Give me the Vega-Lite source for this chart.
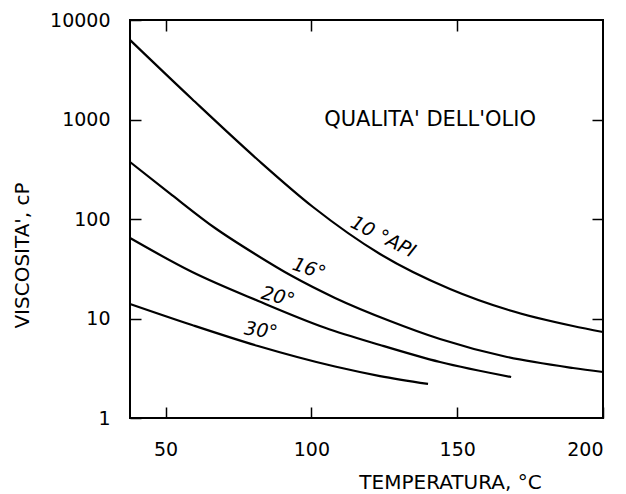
{
  "$schema": "https://vega.github.io/schema/vega-lite/v6.json",
  "width": 473,
  "height": 398,
  "autosize": {"type": "none"},
  "padding": {"left": 130, "top": 20, "right": 23, "bottom": 76},
  "background": "white",
  "config": {
    "view": {"stroke": "black", "strokeWidth": 2},
    "axis": {
      "grid": false,
      "domain": false,
      "tickColor": "black",
      "tickWidth": 1.5,
      "tickSize": -11,
      "labelFont": "DejaVu Sans",
      "labelFontSize": 19,
      "labelColor": "black",
      "titleFont": "DejaVu Sans",
      "titleFontSize": 20,
      "titleFontWeight": "normal",
      "titleColor": "black"
    }
  },
  "datasets": {
    "curves": [
      {"grade": "10", "T": 37.8, "v": 6295},
      {"grade": "10", "T": 59.06, "v": 1607},
      {"grade": "10", "T": 81.7, "v": 392},
      {"grade": "10", "T": 100.56, "v": 132},
      {"grade": "10", "T": 123.53, "v": 44.5},
      {"grade": "10", "T": 147.54, "v": 19.8},
      {"grade": "10", "T": 167.1, "v": 12.3},
      {"grade": "10", "T": 189.7, "v": 8.41},
      {"grade": "10", "T": 200, "v": 7.32},
      {"grade": "16", "T": 37.8, "v": 374},
      {"grade": "16", "T": 52.2, "v": 174},
      {"grade": "16", "T": 66.95, "v": 81.2},
      {"grade": "16", "T": 80.67, "v": 44.5},
      {"grade": "16", "T": 93.36, "v": 26.7},
      {"grade": "16", "T": 108.1, "v": 16.1},
      {"grade": "16", "T": 126.96, "v": 9.44},
      {"grade": "16", "T": 144.1, "v": 6.22},
      {"grade": "16", "T": 167.1, "v": 4.1},
      {"grade": "16", "T": 189.7, "v": 3.18},
      {"grade": "16", "T": 200, "v": 2.9},
      {"grade": "20", "T": 37.8, "v": 64.4},
      {"grade": "20", "T": 58.96, "v": 29.5},
      {"grade": "20", "T": 81.8, "v": 15.0},
      {"grade": "20", "T": 104.67, "v": 8.08},
      {"grade": "20", "T": 123.53, "v": 5.42},
      {"grade": "20", "T": 144.1, "v": 3.65},
      {"grade": "20", "T": 168.5, "v": 2.58},
      {"grade": "30", "T": 37.8, "v": 14.0},
      {"grade": "30", "T": 59.06, "v": 8.6},
      {"grade": "30", "T": 81.7, "v": 5.29},
      {"grade": "30", "T": 108.1, "v": 3.29},
      {"grade": "30", "T": 123.53, "v": 2.64},
      {"grade": "30", "T": 140.0, "v": 2.2}
    ]
  },
  "layer": [
    {
      "data": {"name": "curves"},
      "mark": {"type": "line", "color": "black", "strokeWidth": 2.2, "interpolate": "monotone"},
      "encoding": {
        "x": {
          "field": "T", "type": "quantitative",
          "scale": {"domain": [37.8, 200], "nice": false, "zero": false},
          "axis": {"orient": "bottom", "values": [50, 100, 150, 200], "labelPadding": 33, "labelBaseline": "top", "title": "TEMPERATURA, °C", "titleX": 320, "titleY": 64, "titleBaseline": "middle", "titleAlign": "center"}
        },
        "y": {
          "field": "v", "type": "quantitative",
          "scale": {"type": "log", "domain": [1, 10000], "nice": false},
          "axis": {"orient": "left", "values": [1, 10, 100, 1000, 10000], "format": "d", "labelPadding": 31, "title": "VISCOSITA', cP", "titleX": -108, "titleY": 235, "titleBaseline": "middle", "titleAlign": "center", "titleAngle": 270}
        },
        "detail": {"field": "grade"}
      }
    },
    {
      "data": {"values": [{"label": "QUALITA' DELL'OLIO", "T": 140.7, "v": 986}]},
      "mark": {"type": "text", "font": "DejaVu Sans", "fontSize": 21, "color": "black", "align": "center", "baseline": "middle"},
      "encoding": {
        "x": {"field": "T", "type": "quantitative", "axis": {"orient": "top", "values": [50, 100, 150], "labels": false, "title": null}},
        "y": {"field": "v", "type": "quantitative", "scale": {"type": "log"}, "axis": {"orient": "right", "values": [10, 100, 1000], "labels": false, "title": null}},
        "text": {"field": "label"}
      }
    },
    {
      "data": {"values": [{"label": "10 °API", "T": 124.6, "v": 66}]},
      "mark": {"type": "text", "font": "DejaVu Sans", "fontSize": 19, "fontStyle": "italic", "color": "black", "align": "center", "baseline": "middle", "angle": 27},
      "encoding": {
        "x": {"field": "T", "type": "quantitative", "axis": null},
        "y": {"field": "v", "type": "quantitative", "scale": {"type": "log"}, "axis": null},
        "text": {"field": "label"}
      }
    },
    {
      "data": {"values": [{"label": "16°", "T": 99.2, "v": 31.6}]},
      "mark": {"type": "text", "font": "DejaVu Sans", "fontSize": 19, "fontStyle": "italic", "color": "black", "align": "center", "baseline": "middle", "angle": 18},
      "encoding": {
        "x": {"field": "T", "type": "quantitative", "axis": null},
        "y": {"field": "v", "type": "quantitative", "scale": {"type": "log"}, "axis": null},
        "text": {"field": "label"}
      }
    },
    {
      "data": {"values": [{"label": "20°", "T": 88.6, "v": 16.5}]},
      "mark": {"type": "text", "font": "DejaVu Sans", "fontSize": 19, "fontStyle": "italic", "color": "black", "align": "center", "baseline": "middle", "angle": 14},
      "encoding": {
        "x": {"field": "T", "type": "quantitative", "axis": null},
        "y": {"field": "v", "type": "quantitative", "scale": {"type": "log"}, "axis": null},
        "text": {"field": "label"}
      }
    },
    {
      "data": {"values": [{"label": "30°", "T": 82.7, "v": 7.55}]},
      "mark": {"type": "text", "font": "DejaVu Sans", "fontSize": 19, "fontStyle": "italic", "color": "black", "align": "center", "baseline": "middle", "angle": 8},
      "encoding": {
        "x": {"field": "T", "type": "quantitative", "axis": null},
        "y": {"field": "v", "type": "quantitative", "scale": {"type": "log"}, "axis": null},
        "text": {"field": "label"}
      }
    }
  ],
  "resolve": {"axis": {"x": "independent", "y": "independent"}}
}
